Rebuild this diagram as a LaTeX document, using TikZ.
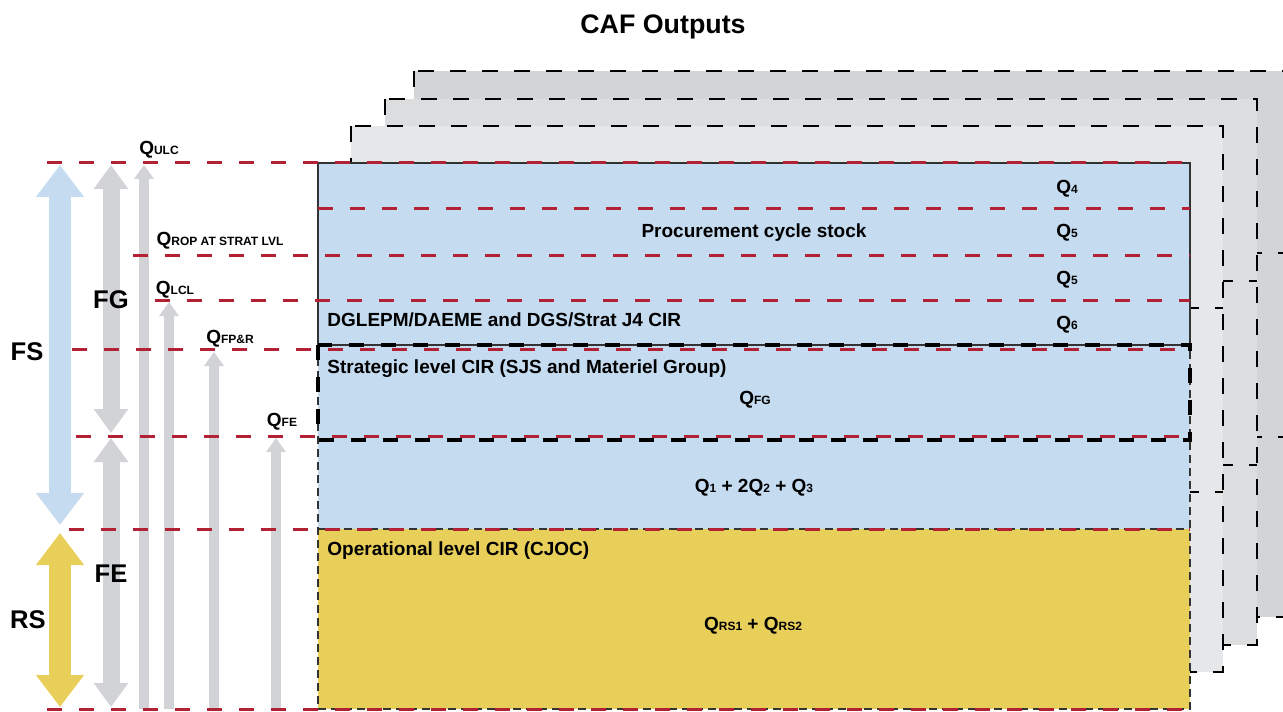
\documentclass[tikz,border=0pt]{standalone}
\usepackage{fontspec}
\setmainfont{Liberation Sans}
\usetikzlibrary{arrows.meta}

\definecolor{fsblue}{HTML}{C5DBF0}
\definecolor{rsyellow}{HTML}{E8CF5A}
\definecolor{guidered}{HTML}{B22234}
\definecolor{arrowgray}{HTML}{D1D3D6}
\definecolor{pageA}{HTML}{E6E7E9}
\definecolor{pageB}{HTML}{DCDDDF}
\definecolor{pageC}{HTML}{D3D4D6}

\newcommand{\subfont}{\fontsize{6}{7}\selectfont}
\newcommand{\qsub}[1]{Q{\subfont #1}}

\begin{document}
\begin{tikzpicture}[x=0.5pt, y=-0.5pt,
    page/.style={draw=black, line width=0.7pt, dash pattern=on 8pt off 8pt},
    edge/.style={draw=black!80, line width=0.7pt, dash pattern=on 4pt off 2.5pt},
    level/.style={draw=guidered, line width=1.5pt, dash pattern=on 7.5pt off 8.5pt},
    cirbox/.style={draw=black, line width=2.4pt, dash pattern=on 7.5pt off 8.5pt},
    big/.style={font=\fontsize{12.8}{14}\selectfont\bfseries},
    lbl/.style={font=\fontsize{9.5}{11}\selectfont\bfseries, inner sep=0pt},
    span/.style={line width=11pt, {Triangle[length=16pt,width=23pt]}-{Triangle[length=16pt,width=23pt]}},
    stage/.style={line width=8.5pt, draw=arrowgray, {Triangle[length=12pt,width=16.5pt]}-{Triangle[length=12pt,width=16.5pt]}},
    qty/.style={line width=5pt, draw=arrowgray, -{Triangle[length=7pt,width=9.5pt]}}
]
    \useasboundingbox (0,0) rectangle (1283,711);

    % Titel
    \node[font=\fontsize{13.4}{15}\selectfont\bfseries] (title) at (663,27) {CAF Outputs};

    % Seiten dahinter
    \foreach \dx/\dy/\c in {96/-92/pageC, 67/-64/pageB, 33/-37/pageA} {
        \fill[\c] ({318+\dx},{163+\dy}) rectangle ({1190+\dx},{709+\dy});
        \draw[page] ({318+\dx},{163+\dy}) rectangle ({1190+\dx},{709+\dy});
        \draw[page] ({318+\dx},{345+\dy}) -- ({1190+\dx},{345+\dy});
        \draw[page] ({318+\dx},{529+\dy}) -- ({1190+\dx},{529+\dy});
    }

    % Hauptseite
    \fill[fsblue] (318,163) rectangle (1190,529);
    \fill[rsyellow] (318,529) rectangle (1190,709);
    \draw[draw=black!80, line width=0.6pt] (318,163) rectangle (1190,345);
    \draw[edge] (318,345) rectangle (1190,709);
    \draw[edge] (318,529) -- (1190,529);

    % Pfeile links
    \coordinate (fsT) at (60,165);  \coordinate (fsB) at (60,525);
    \coordinate (rsT) at (60,533);  \coordinate (rsB) at (60,707);
    \coordinate (fgT) at (111,165); \coordinate (fgB) at (111,433);
    \coordinate (feT) at (111,438); \coordinate (feB) at (111,707);
    \coordinate (ulcT) at (144,165); \coordinate (ulcB) at (144,709);
    \coordinate (lclT) at (169,302); \coordinate (lclB) at (169,709);
    \coordinate (fprT) at (214,352); \coordinate (fprB) at (214,709);
    \coordinate (qfeT) at (276,438); \coordinate (qfeB) at (276,709);

    \draw[span, draw=fsblue] (fsT) -- (fsB);
    \draw[span, draw=rsyellow] (rsT) -- (rsB);
    \draw[stage] (fgT) -- (fgB);
    \draw[stage] (feT) -- (feB);
    \draw[qty] (ulcB) -- (ulcT);
    \draw[qty] (lclB) -- (lclT);
    \draw[qty] (fprB) -- (fprT);
    \draw[qty] (qfeB) -- (qfeT);

    % Ebenen
    \foreach \y/\x in {163/47, 209/318, 255/133, 300/155, 349/72, 436/76, 529/69, 709/47}
        \draw[level] (\x,\y) -- (1190,\y);

    \draw[cirbox] (318,345) rectangle (1190,440);

    % Beschriftungen links
    \node[big] (fs) at (27,352) {FS};
    \node[big] (rs) at (28,620) {RS};
    \node[big] (fg) at (111,300) {FG};
    \node[big] (fe) at (111,574) {FE};
    \node[lbl] (qulc) at (159,150) {\qsub{ULC}};
    \node[lbl] (qrop) at (220,241) {\qsub{ROP AT STRAT LVL}};
    \node[lbl] (qlcl) at (175,290) {\qsub{LCL}};
    \node[lbl] (qfpr) at (230,339) {\qsub{FP\&R}};
    \node[lbl] (qfe) at (282,422) {\qsub{FE}};

    % Beschriftungen Hauptseite
    \foreach \y/\n [count=\i] in {189/4, 233/5, 280/5, 325/6}
        \node[lbl] (q\i) at (1067,\y) {\qsub{\n}};
    \node[lbl] (proc) at (754,233) {Procurement cycle stock};
    \node[lbl, anchor=west] (dgl) at (327,320) {DGLEPM/DAEME and DGS/Strat J4 CIR};
    \node[lbl, anchor=west] (strat) at (327,369) {Strategic level CIR (SJS and Materiel Group)};
    \node[lbl] (qfg) at (755,400) {\qsub{FG}};
    \node[lbl] (qsum) at (754,488) {\qsub{1} + 2\qsub{2} + \qsub{3}};
    \node[lbl, anchor=west] (oper) at (327,551) {Operational level CIR (CJOC)};
    \node[lbl] (qrs) at (753,626) {\qsub{RS1} + \qsub{RS2}};
\end{tikzpicture}
\end{document}
